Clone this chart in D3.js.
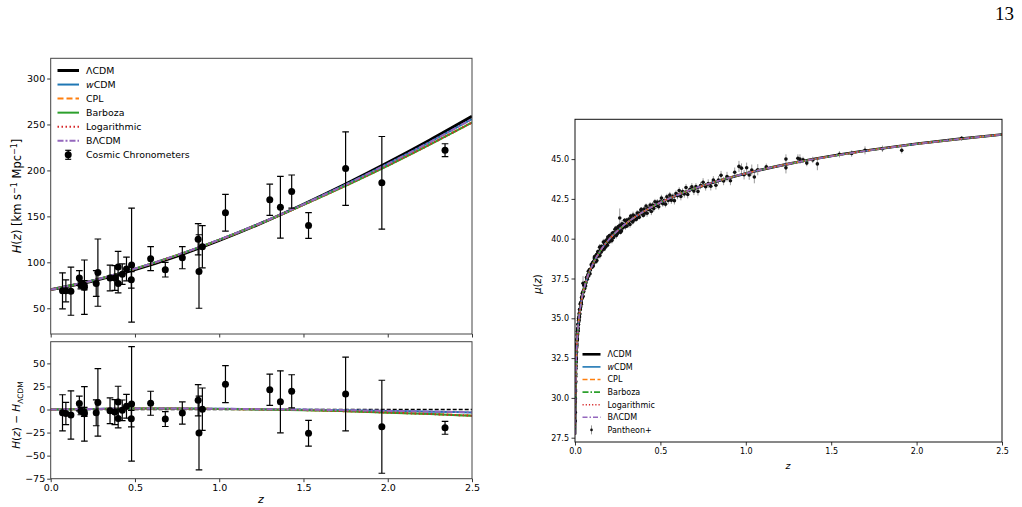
<!DOCTYPE html>
<html>
<head>
<meta charset="utf-8">
<script src="https://cdn.jsdelivr.net/npm/d3@7/dist/d3.min.js"></script>
<style>
body { margin: 0; background: #fff; }
svg { font-family: "DejaVu Sans", sans-serif; }
</style>
</head>
<body>
<div id="fig"></div>
<script>
// ---- model names / styles ----
var modelNames = ["ΛCDM", "wCDM", "CPL", "Barboza", "Logarithmic", "BΛCDM"];
var modelColors = ["#000000", "#1f77b4", "#ff7f0e", "#2ca02c", "#d62728", "#9467bd"];

// ---- cosmic chronometers H(z) ----
var ccZ   = [0.07, 0.09, 0.12, 0.17, 0.179, 0.199, 0.2, 0.27, 0.28, 0.352, 0.3802, 0.4, 0.4004, 0.4247, 0.4497, 0.4783, 0.48,
             0.593, 0.68, 0.781, 0.875, 0.88, 0.9, 1.037, 1.3, 1.363, 1.43, 1.53, 1.75, 1.965, 2.34];
var ccH   = [69, 69, 68.6, 83, 75, 75, 72.9, 77, 88.8, 83, 83, 95, 77, 87.1, 92.8, 80.9, 97,
             104, 92, 105, 125, 90, 117, 154, 168, 160, 177, 140, 202, 186.5, 222];
var ccErr = [19.6, 12, 26.2, 8, 4, 5, 29.6, 14, 36.6, 14, 13.5, 17, 10.2, 11.2, 12.9, 9, 62,
             13, 8, 12, 17, 40, 23, 20, 17, 33.6, 18, 14, 40, 50.4, 7];
// residuals H - H_LCDM
var ccRes = [-3.6, -4.3, -5.9, 6.6, -1.7, -2.6, -4.7, -3.6, 7.7, -1.4, -2.8, 8.2, -9.8, -0.9, 3.5, -9.9, 6.1,
             6.8, -10.4, -3.8, 10, -25.4, 0.3, 27.5, 21.4, 8.3, 19.7, -25.7, 16.8, -18.7, -19.8];

// ---- model H(z) curves, sampled ----
var zGrid = [0, 0.25, 0.5, 0.75, 1.0, 1.25, 1.5, 1.75, 2.0, 2.25, 2.5];
var hLcdm     = [70.3, 79.7, 92.0, 106.8, 123.8, 142.6, 163.2, 185.2, 208.5, 233.1, 258.9];
var hWcdm     = [70.3, 80.2, 93.0, 107.8, 124.5, 142.9, 163.0, 184.4, 207.0, 230.8, 255.7];
var hCpl      = [70.3, 80.2, 93.0, 107.8, 124.4, 142.7, 162.6, 183.4, 205.3, 228.3, 252.3];
var hBarboza  = [70.3, 80.2, 93.0, 107.8, 124.4, 142.6, 162.5, 183.3, 205.1, 228.1, 252.0];
var hLog      = [70.3, 80.2, 93.0, 107.8, 124.4, 142.7, 162.6, 183.4, 205.2, 228.2, 252.2];
var hBlcdm    = [70.3, 80.3, 93.1, 107.9, 124.6, 143.0, 163.1, 184.5, 207.1, 230.9, 255.9];
// residuals of each model against LCDM
var rLcdm     = [0, 0, 0, 0, 0, 0, 0, 0, 0, 0, 0];
var rWcdm     = [0, 0.5, 1.0, 1.0, 0.7, 0.3, -0.2, -0.8, -1.5, -2.3, -3.2];
var rCpl      = [0, 0.5, 1.0, 1.0, 0.6, 0.1, -0.6, -1.8, -3.2, -4.8, -6.6];
var rBarboza  = [0, 0.5, 1.0, 1.0, 0.6, 0.0, -0.7, -1.9, -3.4, -5.0, -6.9];
var rLog      = [0, 0.5, 1.0, 1.0, 0.6, 0.1, -0.6, -1.8, -3.3, -4.9, -6.7];
var rBlcdm    = [0, 0.6, 1.1, 1.1, 0.8, 0.4, -0.1, -0.7, -1.4, -2.2, -3.0];

// ---- distance modulus curves ----
var zMu = [0.0008, 0.001, 0.002, 0.003, 0.005, 0.0075, 0.01, 0.015, 0.02, 0.03, 0.04, 0.05, 0.075, 0.1, 0.15,
           0.2, 0.25, 0.3, 0.4, 0.5, 0.6, 0.8, 1.0, 1.25, 1.5, 1.75, 2.0, 2.25, 2.5];
var muLcdm = [27.70, 28.18, 29.69, 30.57, 31.68, 32.55, 33.18, 34.06, 34.70, 35.60, 36.24, 36.74, 37.66, 38.31, 39.27,
              39.96, 40.51, 40.96, 41.68, 42.26, 42.74, 43.50, 44.10, 44.70, 45.19, 45.60, 45.96, 46.27, 46.55];
// the five other models lie on top of each other here
var muAlt  = [27.70, 28.18, 29.69, 30.57, 31.68, 32.55, 33.18, 34.06, 34.70, 35.60, 36.24, 36.74, 37.66, 38.31, 39.27,
              39.96, 40.51, 40.97, 41.69, 42.27, 42.75, 43.51, 44.10, 44.70, 45.18, 45.59, 45.95, 46.26, 46.54];

// ---- Pantheon+ sample (z, mu, sigma) ----
var snData = [
 [0.0012,28.55,0.25],[0.0015,29.1,0.3],[0.0019,29.75,0.22],[0.0023,29.95,0.3],[0.0026,30.4,0.2],[0.003,30.5,0.25],
 [0.0034,30.95,0.2],[0.0038,31.05,0.28],[0.0042,31.35,0.2],[0.0047,31.5,0.22],[0.0052,31.85,0.18],[0.0058,32.0,0.25],
 [0.0064,32.25,0.2],[0.007,32.45,0.22],[0.0077,32.5,0.2],[0.0083,32.85,0.18],[0.009,32.9,0.2],[0.0096,33.15,0.17],
 [0.0105,33.39,0.2],[0.011,33.27,0.18],[0.0118,33.69,0.17],[0.0125,33.62,0.2],[0.013,33.95,0.16],[0.0138,33.70,0.18],
 [0.0145,34.05,0.15],[0.015,33.96,0.17],[0.016,34.35,0.15],[0.0168,34.25,0.16],[0.0175,34.63,0.15],[0.0183,34.36,0.17],
 [0.019,34.63,0.14],[0.02,34.61,0.15],[0.021,34.98,0.14],[0.022,34.78,0.16],[0.023,35.09,0.14],[0.0238,34.89,0.15],
 [0.025,35.31,0.13],[0.026,35.24,0.14],[0.0272,35.57,0.13],[0.028,35.28,0.15],[0.029,35.55,0.13],[0.0305,35.56,0.14],
 [0.032,35.89,0.13],[0.0335,35.72,0.14],[0.035,36.01,0.13],[0.037,35.88,0.14],[0.039,36.32,0.12],[0.041,36.24,0.13],
 [0.043,36.58,0.12],[0.045,36.36,0.13],[0.048,36.70,0.12],[0.051,36.69,0.12],[0.054,37.07,0.12],[0.057,36.87,0.13],
 [0.06,37.24,0.12],[0.064,37.24,0.12],[0.068,37.58,0.11],[0.072,37.45,0.12],[0.076,37.75,0.11],[0.08,37.66,0.12],
 [0.085,38.06,0.11],[0.09,38.04,0.12],[0.095,38.37,0.11],[0.1,38.21,0.12],
 [0.0142,34.19,0.2],[0.0178,34.19,0.18],[0.0215,34.88,0.15],[0.0265,35.08,0.14],[0.031,35.91,0.14],[0.036,35.98,0.13],
 [0.042,36.40,0.12],[0.047,36.38,0.13],[0.052,37.08,0.12],[0.062,37.03,0.12],[0.07,37.53,0.11],[0.078,37.96,0.12],
 [0.088,37.80,0.12],[0.047,37.2,0.45],
 [0.103,38.50,0.15],[0.107,38.28,0.12],[0.111,38.60,0.18],[0.115,38.88,0.14],[0.118,38.60,0.2],[0.122,38.55,0.13],
 [0.126,39.00,0.16],[0.13,38.89,0.22],[0.134,39.20,0.12],[0.138,38.92,0.17],[0.142,39.21,0.14],[0.146,38.94,0.19],
 [0.15,39.29,0.15],[0.154,39.52,0.12],[0.158,39.28,0.18],[0.162,39.40,0.14],[0.166,39.79,0.2],[0.17,39.40,0.13],
 [0.174,39.72,0.16],[0.178,39.47,0.22],[0.182,39.77,0.12],[0.186,39.93,0.17],[0.19,39.59,0.14],[0.194,39.95,0.19],
 [0.198,39.85,0.15],[0.202,40.20,0.12],[0.206,39.90,0.18],[0.21,40.09,0.14],[0.214,39.93,0.2],[0.218,40.34,0.13],
 [0.222,40.33,0.16],[0.226,40.08,0.22],[0.23,40.35,0.12],[0.234,40.59,0.17],[0.238,40.29,0.14],[0.242,40.20,0.19],
 [0.246,40.63,0.15],[0.25,40.48,0.12],[0.254,40.76,0.18],[0.258,40.44,0.14],[0.262,40.70,0.2],[0.266,40.40,0.13],
 [0.27,40.72,0.16],[0.275,40.93,0.22],[0.28,40.68,0.12],[0.285,40.78,0.17],[0.29,41.16,0.14],[0.295,40.75,0.19],
 [0.3,41.06,0.15],[0.305,40.80,0.12],[0.31,41.08,0.18],[0.316,41.24,0.14],[0.322,40.89,0.2],[0.328,41.25,0.13],
 [0.334,41.14,0.16],[0.34,41.48,0.22],[0.346,41.18,0.12],[0.352,41.36,0.17],[0.358,41.21,0.14],[0.364,41.61,0.19],
 [0.37,41.60,0.15],[0.376,41.34,0.12],[0.382,41.61,0.18],[0.388,41.85,0.14],[0.394,41.55,0.2],[0.4,41.46,0.13],
 [0.105,38.37,0.14],[0.113,38.79,0.16],[0.12,38.71,0.13],[0.128,38.63,0.18],[0.136,39.14,0.15],[0.144,39.47,0.2],
 [0.152,39.15,0.13],[0.16,39.48,0.17],[0.168,39.33,0.14],[0.176,39.83,0.16],[0.184,39.69,0.19],[0.192,40.10,0.14],
 [0.2,39.80,0.15],[0.208,40.14,0.13],[0.216,39.88,0.18],[0.224,40.37,0.14],[0.232,40.28,0.2],[0.24,40.67,0.15],
 [0.248,40.31,0.13],[0.256,40.60,0.17],[0.264,40.84,0.14],[0.272,40.49,0.19],[0.282,40.89,0.15],[0.292,40.78,0.16],
 [0.302,41.17,0.14],[0.314,41.00,0.18],[0.326,41.42,0.15],[0.338,41.05,0.16],[0.35,41.43,0.14],[0.362,41.29,0.18],
 [0.374,41.53,0.15],[0.386,41.80,0.17],[0.398,41.57,0.16],[0.262,41.3,0.6],
 [0.405,41.86,0.18],[0.41,41.62,0.2],[0.416,42.05,0.16],[0.422,41.60,0.22],[0.428,41.91,0.18],[0.434,41.83,0.2],
 [0.44,42.12,0.17],[0.447,41.71,0.23],[0.454,42.11,0.19],[0.461,41.89,0.2],[0.468,42.32,0.18],[0.475,42.09,0.22],
 [0.482,42.30,0.19],[0.49,42.01,0.2],[0.498,42.32,0.18],[0.506,42.55,0.21],[0.514,42.20,0.19],[0.522,42.39,0.22],
 [0.53,42.17,0.2],[0.538,42.63,0.19],[0.546,42.40,0.23],[0.555,42.74,0.2],[0.564,42.41,0.22],[0.573,42.66,0.19],
 [0.582,42.39,0.24],[0.591,42.83,0.2],[0.6,42.70,0.22],[0.61,43.02,0.21],[0.62,42.65,0.24],[0.63,42.96,0.2],
 [0.64,42.81,0.23],[0.65,43.22,0.22],[0.66,42.78,0.25],[0.672,43.08,0.21],[0.684,43.26,0.23],[0.696,42.99,0.25],
 [0.708,43.27,0.22],[0.72,42.97,0.26],[0.735,43.34,0.23],[0.75,43.55,0.25],[0.765,43.26,0.24],[0.78,43.46,0.27],
 [0.795,43.29,0.26],[0.81,43.68,0.25],[0.825,43.36,0.27],[0.84,43.68,0.26],[0.855,43.98,0.28],[0.87,43.62,0.26],
 [0.89,43.90,0.3],[0.91,43.64,0.28],[0.935,44.17,0.3],[0.96,44.54,0.35],[0.975,44.43,0.3],[0.99,44.02,0.3],
 [1.005,44.46,0.32],[1.02,44.00,0.3],[1.035,44.31,0.35],[1.05,43.88,0.4],[1.07,44.33,0.35],
 [1.12,44.52,0.2],[1.235,45.0,0.3],[1.235,44.45,0.35],[1.305,45.05,0.25],[1.317,45.0,0.3],[1.335,44.95,0.2],
 [1.357,44.75,0.2],[1.392,44.95,0.2],[1.419,44.7,0.4],[1.548,45.3,0.2],[1.62,45.35,0.2],[1.698,45.55,0.25],
 [1.80,45.65,0.2],[1.913,45.55,0.2],[2.264,46.3,0.15]
];

// ---- tick labels ----
var xTicks = [0, 0.5, 1.0, 1.5, 2.0, 2.5];
var hTicks = [50, 100, 150, 200, 250, 300];
var resTicks = [-75, -50, -25, 0, 25, 50];
var muTicks = [27.5, 30.0, 32.5, 35.0, 37.5, 40.0, 42.5, 45.0];

var svg = d3.select("#fig").append("svg")
    .attr("width", 1022)
    .attr("height", 507);

// page number
svg.append("text")
    .attr("x", 1014).attr("y", 20)
    .attr("text-anchor", "end")
    .style("font-family", "'Liberation Serif', serif")
    .style("font-size", "19px")
    .text("13");

function seriesOf(zs, vs) {
    return zs.map(function(z, i) { return [z, vs[i]]; });
}

// adds a model name, with an italic w for wCDM
function addName(sel, name) {
    if (name == "wCDM") {
        sel.append("tspan").style("font-style", "italic").text("w");
        sel.append("tspan").text("CDM");
    } else {
        sel.text(name);
    }
}

// styles for the left figure
var leftDash  = ["", "", "6,3", "", "1.5,2.5", "6,2,2,2"];
var leftWidth = [3, 2, 2, 2, 2, 2];
// styles for the right figure
var rightDash  = ["", "", "5,2.5", "6,2,1.5,2", "1.2,2", "5,2,1.5,2"];
var rightWidth = [2.6, 1.6, 1.6, 1.6, 1.6, 1.6];

function styleAxis(g, size) {
    g.select(".domain").remove();
    g.selectAll(".tick line").attr("stroke", "#000").attr("stroke-width", 0.8);
    g.selectAll(".tick text").style("font-size", size).attr("fill", "#000")
        .style("font-family", "'DejaVu Sans', sans-serif");
}

function frame(g, x0, x1, y0, y1, col) {
    g.append("rect")
        .attr("x", x0).attr("y", y0)
        .attr("width", x1 - x0).attr("height", y1 - y0)
        .attr("fill", "none")
        .attr("stroke", col)
        .attr("stroke-width", 1);
}

function errorbars(g, pts, x, y, cap, col, w) {
    g.selectAll(null).data(pts).enter().append("line")
        .attr("x1", function(d) { return x(d[0]); })
        .attr("x2", function(d) { return x(d[0]); })
        .attr("y1", function(d) { return y(d[1] - d[2]); })
        .attr("y2", function(d) { return y(d[1] + d[2]); })
        .attr("stroke", col).attr("stroke-width", w);
    if (cap > 0) {
        [-1, 1].forEach(function(s) {
            g.selectAll(null).data(pts).enter().append("line")
                .attr("x1", function(d) { return x(d[0]) - cap; })
                .attr("x2", function(d) { return x(d[0]) + cap; })
                .attr("y1", function(d) { return y(d[1] + s * d[2]); })
                .attr("y2", function(d) { return y(d[1] + s * d[2]); })
                .attr("stroke", col).attr("stroke-width", w);
        });
    }
}

/**
 * Left figure: H(z) with cosmic chronometers and residuals
 */
function HubbleChart() {
    var self = this;
    self.x = d3.scaleLinear().domain([0, 2.5]).range([50.7, 472]);
    self.yTop = d3.scaleLinear().domain([22, 322]).range([334, 58.3]);
    self.yRes = d3.scaleLinear().domain([-75, 73.5]).range([478.7, 341.7]);
    self.g = svg.append("g");

    svg.append("clipPath").attr("id", "clipTop").append("rect")
        .attr("x", 50.7).attr("y", 58.3).attr("width", 421.3).attr("height", 275.7);
    svg.append("clipPath").attr("id", "clipRes").append("rect")
        .attr("x", 50.7).attr("y", 341.7).attr("width", 421.3).attr("height", 137);
}

HubbleChart.prototype.update = function() {
    var self = this;
    var g = self.g;
    var hCurves = [hLcdm, hWcdm, hCpl, hBarboza, hLog, hBlcdm];
    var rCurves = [rLcdm, rWcdm, rCpl, rBarboza, rLog, rBlcdm];

    var lineTop = d3.line().curve(d3.curveMonotoneX)
        .x(function(d) { return self.x(d[0]); })
        .y(function(d) { return self.yTop(d[1]); });
    var lineRes = d3.line().curve(d3.curveMonotoneX)
        .x(function(d) { return self.x(d[0]); })
        .y(function(d) { return self.yRes(d[1]); });

    // model curves, top
    var top = g.append("g").attr("clip-path", "url(#clipTop)");
    hCurves.forEach(function(h, i) {
        top.append("path")
            .attr("d", lineTop(seriesOf(zGrid, h)))
            .attr("fill", "none")
            .attr("stroke", modelColors[i])
            .attr("stroke-width", leftWidth[i])
            .attr("stroke-dasharray", leftDash[i]);
    });

    var ccPts = ccZ.map(function(z, i) { return [z, ccH[i], ccErr[i]]; });
    errorbars(top, ccPts, self.x, self.yTop, 3.3, "#000", 1.2);
    top.selectAll(null).data(ccPts).enter().append("circle")
        .attr("cx", function(d) { return self.x(d[0]); })
        .attr("cy", function(d) { return self.yTop(d[1]); })
        .attr("r", 3.5).attr("fill", "#000");

    // residual panel
    var res = g.append("g").attr("clip-path", "url(#clipRes)");
    rCurves.forEach(function(r, i) {
        res.append("path")
            .attr("d", lineRes(seriesOf(zGrid, r)))
            .attr("fill", "none")
            .attr("stroke", modelColors[i])
            .attr("stroke-width", i == 0 ? 1.3 : 2)
            .attr("stroke-dasharray", i == 0 ? "4,2" : leftDash[i]);
    });
    var resPts = ccZ.map(function(z, i) { return [z, ccRes[i], ccErr[i]]; });
    errorbars(res, resPts, self.x, self.yRes, 3.3, "#000", 1.2);
    res.selectAll(null).data(resPts).enter().append("circle")
        .attr("cx", function(d) { return self.x(d[0]); })
        .attr("cy", function(d) { return self.yRes(d[1]); })
        .attr("r", 3.5).attr("fill", "#000");

    // axes
    g.append("g").attr("transform", "translate(50.7,0)")
        .call(d3.axisLeft(self.yTop).tickValues(hTicks).tickSize(3.5).tickPadding(2))
        .call(styleAxis, "9.5px");
    g.append("g").attr("transform", "translate(0,334)")
        .call(d3.axisBottom(self.x).tickValues(xTicks).tickSize(3.5).tickFormat(""))
        .call(styleAxis, "9.5px");
    g.append("g").attr("transform", "translate(50.7,0)")
        .call(d3.axisLeft(self.yRes).tickValues(resTicks).tickSize(3.5).tickPadding(2))
        .call(styleAxis, "9.5px");
    g.append("g").attr("transform", "translate(0,478.7)")
        .call(d3.axisBottom(self.x).tickValues(xTicks).tickSize(3.5).tickPadding(2).tickFormat(d3.format(".1f")))
        .call(styleAxis, "9.5px");

    frame(g, 50.7, 472, 58.3, 334, "#444");
    frame(g, 50.7, 472, 341.7, 478.7, "#444");

    // axis labels
    var lab = g.append("text")
        .attr("transform", "translate(21,196) rotate(-90)")
        .attr("text-anchor", "middle")
        .style("font-size", "11.5px");
    lab.append("tspan").style("font-style", "italic").text("H");
    lab.append("tspan").text("(");
    lab.append("tspan").style("font-style", "italic").text("z");
    lab.append("tspan").text(") [km s");
    lab.append("tspan").attr("dy", -4.5).style("font-size", "8px").text("−1");
    lab.append("tspan").attr("dy", 4.5).text(" Mpc");
    lab.append("tspan").attr("dy", -4.5).style("font-size", "8px").text("−1");
    lab.append("tspan").attr("dy", 4.5).text("]");

    var lab2 = g.append("text")
        .attr("transform", "translate(20,415) rotate(-90)")
        .attr("text-anchor", "middle")
        .style("font-size", "10.5px");
    lab2.append("tspan").style("font-style", "italic").text("H");
    lab2.append("tspan").text("(");
    lab2.append("tspan").style("font-style", "italic").text("z");
    lab2.append("tspan").text(") − ");
    lab2.append("tspan").style("font-style", "italic").text("H");
    lab2.append("tspan").attr("dy", 2.5).style("font-size", "7.5px").text("ΛCDM");

    g.append("text")
        .attr("x", 261).attr("y", 503)
        .attr("text-anchor", "middle")
        .style("font-size", "11px").style("font-style", "italic")
        .text("z");

    // legend
    var leg = g.append("g");
    var rowY = function(i) { return 70.5 + i * 14.05; };
    modelNames.forEach(function(name, i) {
        leg.append("line")
            .attr("x1", 57.5).attr("x2", 79)
            .attr("y1", rowY(i)).attr("y2", rowY(i))
            .attr("stroke", modelColors[i])
            .attr("stroke-width", leftWidth[i])
            .attr("stroke-dasharray", leftDash[i]);
        var t = leg.append("text")
            .attr("x", 86).attr("y", rowY(i) + 3.4)
            .style("font-size", "9.4px");
        addName(t, name);
    });
    var cy = rowY(6);
    errorbars(leg, [[68.2, cy, 4.5]], function(v) { return v; }, function(v) { return v; }, 3, "#000", 1.2);
    leg.append("circle").attr("cx", 68.2).attr("cy", cy).attr("r", 3.5).attr("fill", "#000");
    leg.append("text").attr("x", 86).attr("y", cy + 3.4).style("font-size", "9.4px").text("Cosmic Chronometers");
};

/**
 * Right figure: distance modulus with Pantheon+
 */
function DistanceChart() {
    var self = this;
    self.x = d3.scaleLinear().domain([0, 2.5]).range([575, 1002]);
    self.y = d3.scaleLinear().domain([27.23, 47.5]).range([442, 119.3]);
    self.g = svg.append("g");
    svg.append("clipPath").attr("id", "clipMu").append("rect")
        .attr("x", 575).attr("y", 119.3).attr("width", 427).attr("height", 322.7);
}

DistanceChart.prototype.update = function() {
    var self = this;
    var g = self.g;
    var inner = g.append("g").attr("clip-path", "url(#clipMu)");

    // supernovae
    errorbars(inner, snData, self.x, self.y, 0, "#9a9a9a", 1);
    inner.selectAll(null).data(snData).enter().append("circle")
        .attr("cx", function(d) { return self.x(d[0]); })
        .attr("cy", function(d) { return self.y(d[1]); })
        .attr("r", 1.8).attr("fill", "#111");

    var line = d3.line().curve(d3.curveMonotoneX)
        .x(function(d) { return self.x(d[0]); })
        .y(function(d) { return self.y(d[1]); });
    modelNames.forEach(function(name, i) {
        inner.append("path")
            .attr("d", line(seriesOf(zMu, i == 0 ? muLcdm : muAlt)))
            .attr("fill", "none")
            .attr("stroke", modelColors[i])
            .attr("stroke-width", rightWidth[i])
            .attr("stroke-dasharray", rightDash[i]);
    });

    g.append("g").attr("transform", "translate(575,0)")
        .call(d3.axisLeft(self.y).tickValues(muTicks).tickSize(3.5).tickPadding(2.5).tickFormat(d3.format(".1f")))
        .call(styleAxis, "8px");
    g.append("g").attr("transform", "translate(0,442)")
        .call(d3.axisBottom(self.x).tickValues(xTicks).tickSize(3.5).tickPadding(2.5).tickFormat(d3.format(".1f")))
        .call(styleAxis, "8px");
    frame(g, 575, 1002, 119.3, 442, "#111");

    var lab = g.append("text")
        .attr("transform", "translate(541,284) rotate(-90)")
        .attr("text-anchor", "middle")
        .style("font-size", "10px");
    lab.append("tspan").style("font-style", "italic").text("μ");
    lab.append("tspan").text("(");
    lab.append("tspan").style("font-style", "italic").text("z");
    lab.append("tspan").text(")");

    g.append("text")
        .attr("x", 788).attr("y", 469)
        .attr("text-anchor", "middle")
        .style("font-size", "9.5px").style("font-style", "italic")
        .text("z");

    // legend
    var leg = g.append("g");
    var rowY = function(i) { return 354.3 + i * 12.6; };
    modelNames.forEach(function(name, i) {
        leg.append("line")
            .attr("x1", 582.5).attr("x2", 600.5)
            .attr("y1", rowY(i)).attr("y2", rowY(i))
            .attr("stroke", modelColors[i])
            .attr("stroke-width", rightWidth[i])
            .attr("stroke-dasharray", rightDash[i]);
        var t = leg.append("text")
            .attr("x", 607.5).attr("y", rowY(i) + 2.9)
            .style("font-size", "8px");
        addName(t, name);
    });
    var py = rowY(6);
    leg.append("line").attr("x1", 591.5).attr("x2", 591.5).attr("y1", py - 4.5).attr("y2", py + 4.5)
        .attr("stroke", "#9a9a9a").attr("stroke-width", 1);
    leg.append("circle").attr("cx", 591.5).attr("cy", py).attr("r", 1.3).attr("fill", "#111");
    leg.append("text").attr("x", 607.5).attr("y", py + 2.9).style("font-size", "8px").text("Pantheon+");
};

var hubble = new HubbleChart();
hubble.update();
var dist = new DistanceChart();
dist.update();
</script>
</body>
</html>
